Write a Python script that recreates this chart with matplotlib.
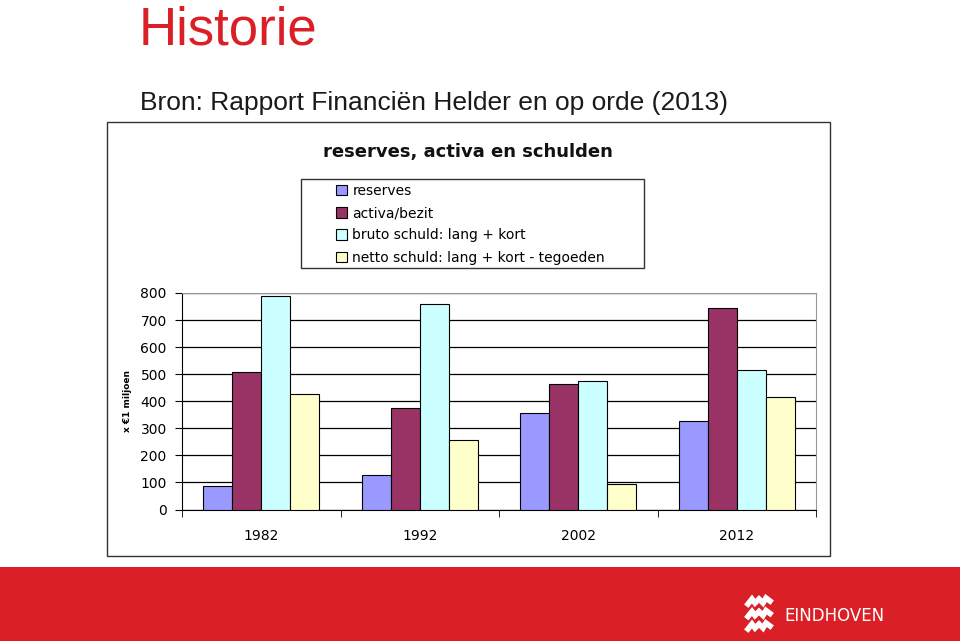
import matplotlib
matplotlib.use("Agg")
import matplotlib.pyplot as plt
import numpy as np
from matplotlib.patches import Rectangle
from matplotlib.lines import Line2D

years = ["1982", "1992", "2002", "2012"]
series_names = ["reserves", "activa/bezit", "bruto schuld: lang + kort",
                "netto schuld: lang + kort - tegoeden"]
reserves = [85, 126, 357, 327]
activa = [509, 375, 463, 744]
bruto = [790, 760, 474, 515]
netto = [427, 256, 95, 415]
colors = ["#9999FF", "#993366", "#CCFFFF", "#FFFFCC"]
yticks = [0, 100, 200, 300, 400, 500, 600, 700, 800]

W, H = 960, 641
fig = plt.figure(figsize=(9.6, 6.41), dpi=100)
fig.patch.set_facecolor("white")

def fx(px):
    return px / W

def fy(py):
    return 1 - py / H

red = "#DA1F26"
# header texts
fig.text(fx(139), fy(44.5), "Historie", color=red, fontsize=38,
         family="Liberation Sans", va="baseline", ha="left")
fig.text(fx(140), fy(110), "Bron: Rapport Financiën Helder en op orde (2013)",
         color="#1a1a1a", fontsize=19, family="Liberation Sans", va="baseline", ha="left")

# chart border
fig.patches.append(Rectangle((fx(107), fy(556)), fx(830) - fx(107), fy(122) - fy(556),
                             transform=fig.transFigure, fill=False, edgecolor="#333333",
                             linewidth=1.0))
fig.text(fx(468), fy(152), "reserves, activa en schulden", fontsize=13,
         fontweight="bold", ha="center", va="center", color="#111111")

# legend frame
fig.patches.append(Rectangle((fx(301), fy(268)), fx(644) - fx(301), fy(179) - fy(268),
                             transform=fig.transFigure, fill=False, edgecolor="#333333",
                             linewidth=1.0))

# bottom red band
fig.patches.append(Rectangle((0, 0), 1, fy(567), transform=fig.transFigure,
                             facecolor=red, edgecolor="none"))
fig.text(fx(784), fy(616), "EINDHOVEN", color="white", fontsize=12,
         family="DejaVu Sans", va="center", ha="left")
# logo waves
for yy in [602, 614.5, 627]:
    xs = np.array([748, 752, 755, 759, 763, 766, 770])
    ys = np.array([yy + 2, yy - 3, yy + 1, yy - 3, yy + 1, yy - 4, yy - 1])
    fig.lines.append(Line2D(fx(xs), fy(ys), transform=fig.transFigure,
                            color="white", linewidth=4, solid_joinstyle="miter"))

# axes
ax = fig.add_axes([fx(182), fy(509.5), fx(816) - fx(182), fy(293) - fy(509.5)])
data = [reserves, activa, bruto, netto]
x = np.arange(len(years))
bw = 0.183
for i, (vals, c, name) in enumerate(zip(data, colors, series_names)):
    ax.bar(x + (i - 1.5) * bw, vals, width=bw, color=c, edgecolor="black",
           linewidth=0.8, label=name, zorder=3)

ax.set_xlim(-0.5, len(years) - 0.5)
ax.set_ylim(0, 800)
ax.set_yticks(yticks)
ax.set_yticklabels([str(v) for v in yticks], fontsize=10)
ax.yaxis.grid(True, color="black", linewidth=0.9, zorder=0)
ax.set_axisbelow(True)
ax.set_xticks(x)
ax.set_xticklabels(years, fontsize=10)
ax.tick_params(axis="x", length=0, pad=14)
ax.set_xticks(np.arange(-0.5, len(years), 1.0), minor=True)
ax.tick_params(axis="x", which="minor", length=5, direction="out", color="black")
ax.tick_params(axis="y", length=5, direction="out", pad=6)
for s in ["top", "right"]:
    ax.spines[s].set_color("#999999")
ax.spines["left"].set_color("black")
ax.spines["bottom"].set_color("black")
ax.set_ylabel("x €1 miljoen", fontsize=6.5, fontweight="bold", labelpad=6)

leg = fig.legend(loc="upper left", bbox_to_anchor=(fx(333), fy(181)),
                 bbox_transform=fig.transFigure, fontsize=10, frameon=False,
                 handlelength=0.8, handleheight=0.8, handletextpad=0.4,
                 labelspacing=0.6, borderpad=0.2, borderaxespad=0)

fig.savefig("out.png", dpi=100, facecolor="white")
